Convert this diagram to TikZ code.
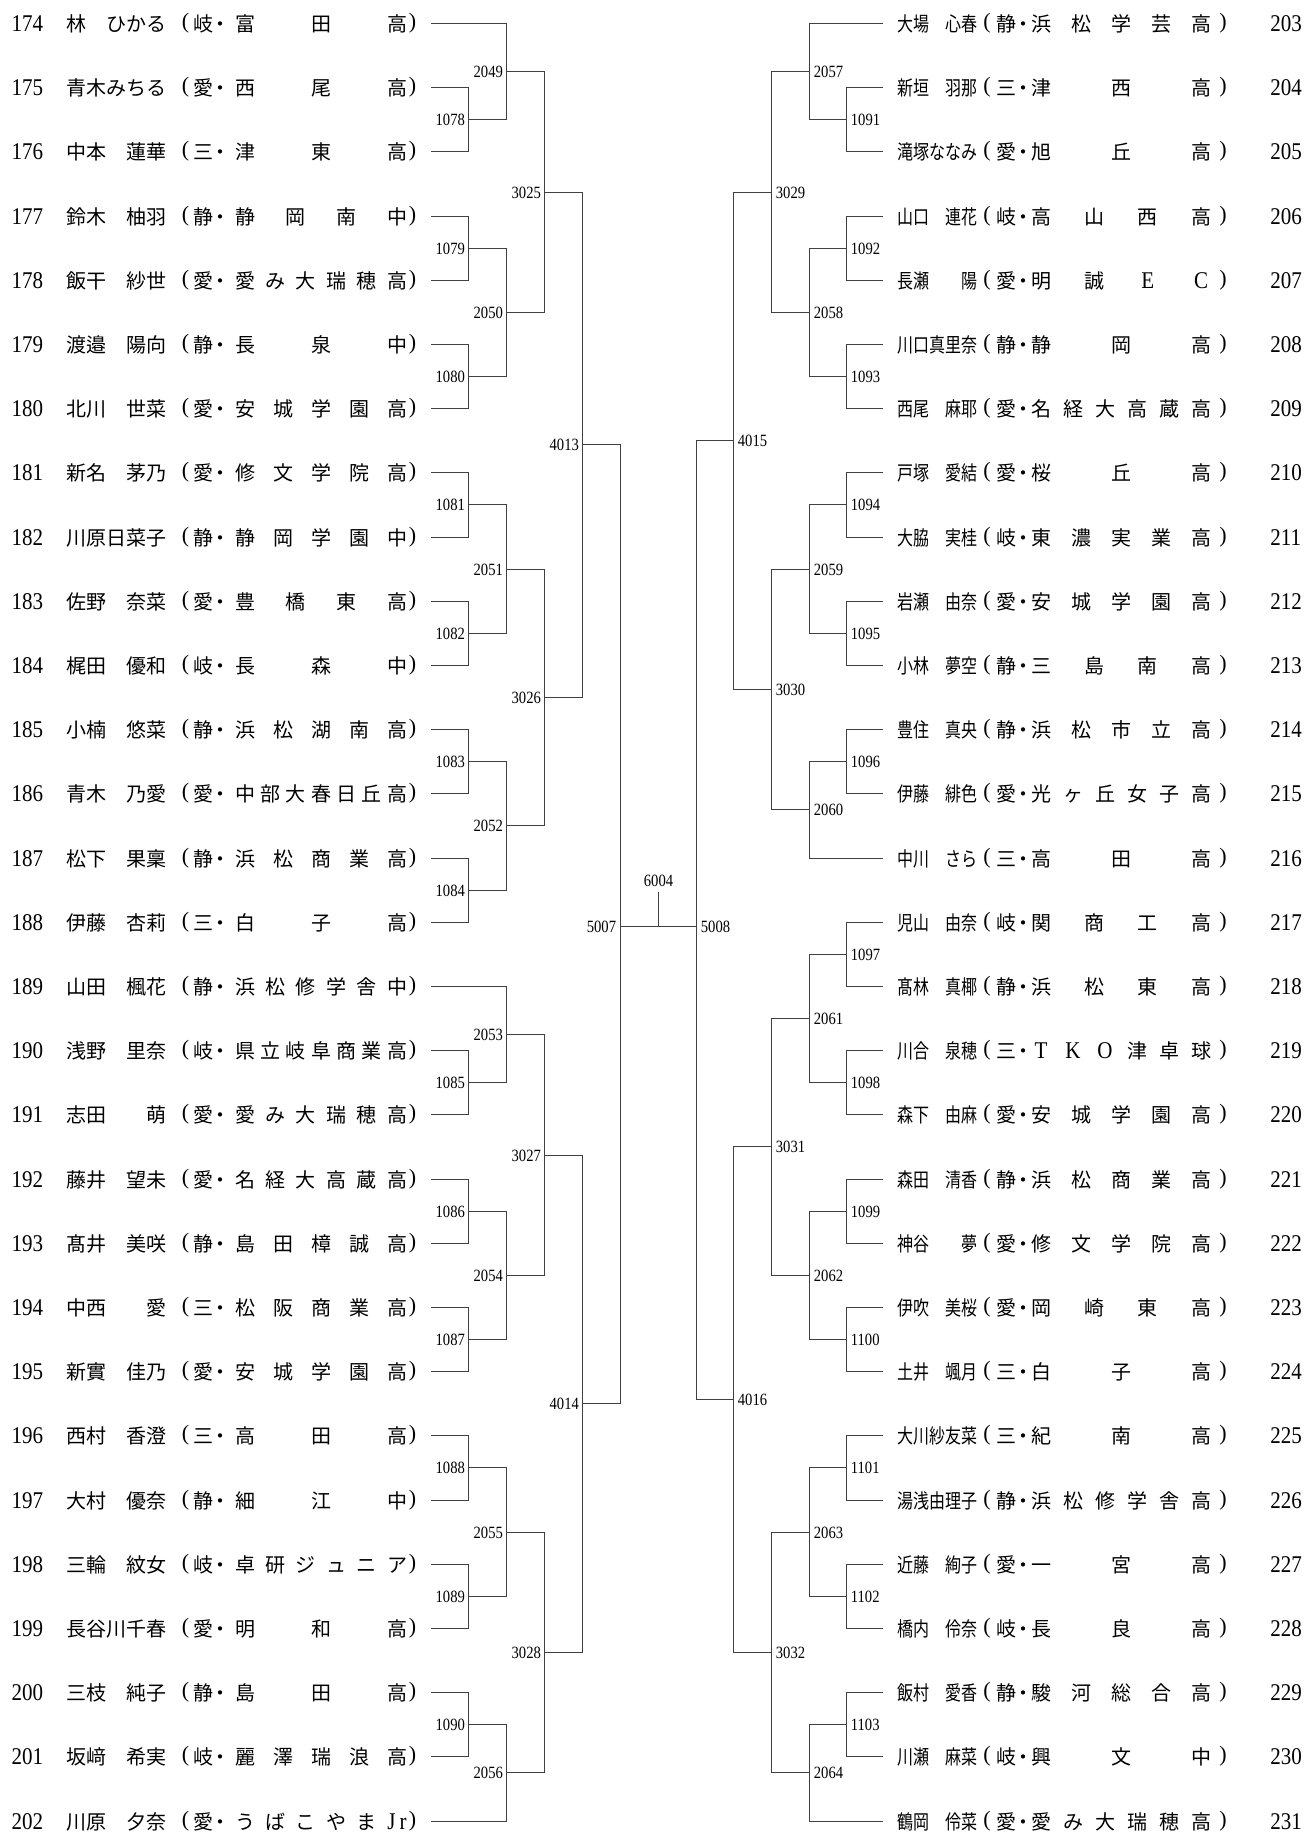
\documentclass[tikz,border=0pt]{standalone}
\usepackage{fontspec}
\newfontfamily\jp{Noto Sans CJK JP}
\newfontfamily\numf[FakeStretch=0.875]{Liberation Serif}
\newfontfamily\lblf[FakeStretch=0.85]{Liberation Serif}
\newfontfamily\parf{Liberation Serif}
\newcommand\latn[1]{{\numf\fontsize{12}{12}\selectfont #1}}
\tikzset{
  jptxt/.style={font=\jp\fontsize{10}{10}\selectfont, inner sep=0pt, text height=8.8pt, text depth=1.2pt},
  numtxt/.style={font=\numf\fontsize{12}{12}\selectfont, inner sep=0pt, text height=8.1pt, text depth=0pt},
  partxt/.style={font=\parf\fontsize{11}{11}\selectfont, inner sep=0pt, text height=7.6pt, text depth=2.4pt},
  lbl/.style={font=\lblf\fontsize{8.6}{8.6}\selectfont, inner sep=0pt, text height=5.8pt, text depth=0pt},
  brk/.style={draw=black!75, line width=0.6pt}
}
\newcommand\LRow[6]{%
  \pgfmathsetmacro\rowy{round(23+64.2*#1)+0.5}%
  \node[numtxt,anchor=east] (Lnum#2) at (43.5,\rowy) {#2};
  \node[jptxt,anchor=west] (Lname#2) at (66,\rowy) {#3};
  \node[partxt] (Llp#2) at (185.5,\rowy) {(};
  \node[jptxt] (Lpref#2) at (203,\rowy) {#4};
  \node[jptxt] (Ldot#2) at (220,\rowy) {・};
  \foreach \sch [count=\k from 0] in {#6} {%
    \pgfmathsetmacro\schx{245+\k*152/(#5-1)}%
    \node[jptxt] (Ls#2-\k) at (\schx,\rowy) {\sch};
  }
  \node[partxt] (Lrp#2) at (412.5,\rowy) {)};
  \coordinate (L#2) at (431,\rowy);
}
\newcommand\RRow[6]{%
  \pgfmathsetmacro\rowy{round(23+64.2*#1)+0.5}%
  \coordinate (R#2) at (883,\rowy);
  \node[jptxt,anchor=west] (Rname#2) at (896.7,\rowy) {\scalebox{0.8}[1]{#3}};
  \node[partxt] (Rlp#2) at (987,\rowy) {(};
  \node[jptxt] (Rpref#2) at (1006,\rowy) {#4};
  \node[jptxt] (Rdot#2) at (1023,\rowy) {・};
  \foreach \sch [count=\k from 0] in {#6} {%
    \pgfmathsetmacro\schx{1041+\k*160/(#5-1)}%
    \node[jptxt] (Rs#2-\k) at (\schx,\rowy) {\sch};
  }
  \node[partxt] (Rrp#2) at (1223,\rowy) {)};
  \node[numtxt,anchor=west] (Rnum#2) at (1270,\rowy) {#2};
}
\newcommand\LM[5]{%
  \pgfmathsetmacro\my{round(23+64.2*#3)+0.5}%
  \coordinate (M#1) at (#2,\my);
  \draw[brk] (#4) -| (M#1) |- (#5);
  \node[lbl,anchor=east] (t#1) at ([xshift=-1.6pt]M#1) {#1};
}
\newcommand\RM[5]{%
  \pgfmathsetmacro\my{round(23+64.2*#3)+0.5}%
  \coordinate (M#1) at (#2,\my);
  \draw[brk] (#4) -| (M#1) |- (#5);
  \node[lbl,anchor=west] (t#1) at ([xshift=2pt]M#1) {#1};
}
\begin{document}
\begin{tikzpicture}[x=0.5pt,y=-0.5pt]
\useasboundingbox (0,0) rectangle (1307,1834);
% left rows
\LRow{0}{174}{林　ひかる}{岐}{3}{富,田,高}
\LRow{1}{175}{青木みちる}{愛}{3}{西,尾,高}
\LRow{2}{176}{中本　蓮華}{三}{3}{津,東,高}
\LRow{3}{177}{鈴木　柚羽}{静}{4}{静,岡,南,中}
\LRow{4}{178}{飯干　紗世}{愛}{6}{愛,み,大,瑞,穂,高}
\LRow{5}{179}{渡邉　陽向}{静}{3}{長,泉,中}
\LRow{6}{180}{北川　世菜}{愛}{5}{安,城,学,園,高}
\LRow{7}{181}{新名　茅乃}{愛}{5}{修,文,学,院,高}
\LRow{8}{182}{川原日菜子}{静}{5}{静,岡,学,園,中}
\LRow{9}{183}{佐野　奈菜}{愛}{4}{豊,橋,東,高}
\LRow{10}{184}{梶田　優和}{岐}{3}{長,森,中}
\LRow{11}{185}{小楠　悠菜}{静}{5}{浜,松,湖,南,高}
\LRow{12}{186}{青木　乃愛}{愛}{7}{中,部,大,春,日,丘,高}
\LRow{13}{187}{松下　果稟}{静}{5}{浜,松,商,業,高}
\LRow{14}{188}{伊藤　杏莉}{三}{3}{白,子,高}
\LRow{15}{189}{山田　楓花}{静}{6}{浜,松,修,学,舎,中}
\LRow{16}{190}{浅野　里奈}{岐}{7}{県,立,岐,阜,商,業,高}
\LRow{17}{191}{志田　　萌}{愛}{6}{愛,み,大,瑞,穂,高}
\LRow{18}{192}{藤井　望未}{愛}{6}{名,経,大,高,蔵,高}
\LRow{19}{193}{髙井　美咲}{静}{5}{島,田,樟,誠,高}
\LRow{20}{194}{中西　　愛}{三}{5}{松,阪,商,業,高}
\LRow{21}{195}{新實　佳乃}{愛}{5}{安,城,学,園,高}
\LRow{22}{196}{西村　香澄}{三}{3}{高,田,高}
\LRow{23}{197}{大村　優奈}{静}{3}{細,江,中}
\LRow{24}{198}{三輪　紋女}{岐}{6}{卓,研,ジ,ュ,ニ,ア}
\LRow{25}{199}{長谷川千春}{愛}{3}{明,和,高}
\LRow{26}{200}{三枝　純子}{静}{3}{島,田,高}
\LRow{27}{201}{坂﨑　希実}{岐}{5}{麗,澤,瑞,浪,高}
\LRow{28}{202}{川原　夕奈}{愛}{6}{う,ば,こ,や,ま,\latn{J\,r}}
% right rows
\RRow{0}{203}{大場　心春}{静}{5}{浜,松,学,芸,高}
\RRow{1}{204}{新垣　羽那}{三}{3}{津,西,高}
\RRow{2}{205}{滝塚ななみ}{愛}{3}{旭,丘,高}
\RRow{3}{206}{山口　連花}{岐}{4}{高,山,西,高}
\RRow{4}{207}{長瀬　　陽}{愛}{4}{明,誠,\latn{E},\latn{C}}
\RRow{5}{208}{川口真里奈}{静}{3}{静,岡,高}
\RRow{6}{209}{西尾　麻耶}{愛}{6}{名,経,大,高,蔵,高}
\RRow{7}{210}{戸塚　愛結}{愛}{3}{桜,丘,高}
\RRow{8}{211}{大脇　実桂}{岐}{5}{東,濃,実,業,高}
\RRow{9}{212}{岩瀬　由奈}{愛}{5}{安,城,学,園,高}
\RRow{10}{213}{小林　夢空}{静}{4}{三,島,南,高}
\RRow{11}{214}{豊住　真央}{静}{5}{浜,松,市,立,高}
\RRow{12}{215}{伊藤　緋色}{愛}{6}{光,ヶ,丘,女,子,高}
\RRow{13}{216}{中川　さら}{三}{3}{高,田,高}
\RRow{14}{217}{児山　由奈}{岐}{4}{関,商,工,高}
\RRow{15}{218}{髙林　真椰}{静}{4}{浜,松,東,高}
\RRow{16}{219}{川合　泉穂}{三}{6}{\latn{T},\latn{K},\latn{O},津,卓,球}
\RRow{17}{220}{森下　由麻}{愛}{5}{安,城,学,園,高}
\RRow{18}{221}{森田　清香}{静}{5}{浜,松,商,業,高}
\RRow{19}{222}{神谷　　夢}{愛}{5}{修,文,学,院,高}
\RRow{20}{223}{伊吹　美桜}{愛}{4}{岡,崎,東,高}
\RRow{21}{224}{土井　颯月}{三}{3}{白,子,高}
\RRow{22}{225}{大川紗友菜}{三}{3}{紀,南,高}
\RRow{23}{226}{湯浅由理子}{静}{6}{浜,松,修,学,舎,高}
\RRow{24}{227}{近藤　絢子}{愛}{3}{一,宮,高}
\RRow{25}{228}{橋内　伶奈}{岐}{3}{長,良,高}
\RRow{26}{229}{飯村　愛香}{静}{5}{駿,河,総,合,高}
\RRow{27}{230}{川瀬　麻菜}{岐}{3}{興,文,中}
\RRow{28}{231}{鶴岡　伶菜}{愛}{6}{愛,み,大,瑞,穂,高}
% left bracket
\LM{1078}{468.5}{1.5}{L175}{L176}
\LM{2049}{506.5}{0.75}{L174}{M1078}
\LM{1079}{468.5}{3.5}{L177}{L178}
\LM{1080}{468.5}{5.5}{L179}{L180}
\LM{2050}{506.5}{4.5}{M1079}{M1080}
\LM{3025}{544.5}{2.625}{M2049}{M2050}
\LM{1081}{468.5}{7.5}{L181}{L182}
\LM{1082}{468.5}{9.5}{L183}{L184}
\LM{2051}{506.5}{8.5}{M1081}{M1082}
\LM{1083}{468.5}{11.5}{L185}{L186}
\LM{1084}{468.5}{13.5}{L187}{L188}
\LM{2052}{506.5}{12.5}{M1083}{M1084}
\LM{3026}{544.5}{10.5}{M2051}{M2052}
\LM{4013}{582.5}{6.5625}{M3025}{M3026}
\LM{1085}{468.5}{16.5}{L190}{L191}
\LM{2053}{506.5}{15.75}{L189}{M1085}
\LM{1086}{468.5}{18.5}{L192}{L193}
\LM{1087}{468.5}{20.5}{L194}{L195}
\LM{2054}{506.5}{19.5}{M1086}{M1087}
\LM{3027}{544.5}{17.625}{M2053}{M2054}
\LM{1088}{468.5}{22.5}{L196}{L197}
\LM{1089}{468.5}{24.5}{L198}{L199}
\LM{2055}{506.5}{23.5}{M1088}{M1089}
\LM{1090}{468.5}{26.5}{L200}{L201}
\LM{2056}{506.5}{27.25}{M1090}{L202}
\LM{3028}{544.5}{25.375}{M2055}{M2056}
\LM{4014}{582.5}{21.5}{M3027}{M3028}
% right bracket
\RM{1091}{846.5}{1.5}{R204}{R205}
\RM{2057}{809.5}{0.75}{R203}{M1091}
\RM{1092}{846.5}{3.5}{R206}{R207}
\RM{1093}{846.5}{5.5}{R208}{R209}
\RM{2058}{809.5}{4.5}{M1092}{M1093}
\RM{3029}{771.5}{2.625}{M2057}{M2058}
\RM{1094}{846.5}{7.5}{R210}{R211}
\RM{1095}{846.5}{9.5}{R212}{R213}
\RM{2059}{809.5}{8.5}{M1094}{M1095}
\RM{1096}{846.5}{11.5}{R214}{R215}
\RM{2060}{809.5}{12.25}{M1096}{R216}
\RM{3030}{771.5}{10.375}{M2059}{M2060}
\RM{4015}{733.5}{6.5}{M3029}{M3030}
\RM{1097}{846.5}{14.5}{R217}{R218}
\RM{1098}{846.5}{16.5}{R219}{R220}
\RM{2061}{809.5}{15.5}{M1097}{M1098}
\RM{1099}{846.5}{18.5}{R221}{R222}
\RM{1100}{846.5}{20.5}{R223}{R224}
\RM{2062}{809.5}{19.5}{M1099}{M1100}
\RM{3031}{771.5}{17.5}{M2061}{M2062}
\RM{1101}{846.5}{22.5}{R225}{R226}
\RM{1102}{846.5}{24.5}{R227}{R228}
\RM{2063}{809.5}{23.5}{M1101}{M1102}
\RM{1103}{846.5}{26.5}{R229}{R230}
\RM{2064}{809.5}{27.25}{M1103}{R231}
\RM{3032}{771.5}{25.375}{M2063}{M2064}
\RM{4016}{733.5}{21.4375}{M3031}{M3032}
% semifinal / final
\coordinate (M5007) at (620.5,926.5);
\coordinate (M5008) at (696.5,926.5);
\draw[brk] (M4013) -| (M5007) |- (M4014);
\draw[brk] (M4015) -| (M5008) |- (M4016);
\draw[brk] (M5007) -- (M5008);
\node[lbl,anchor=east] (t5007) at ([xshift=-2pt]M5007) {5007};
\node[lbl,anchor=west] (t5008) at ([xshift=2pt]M5008) {5008};
\coordinate (C6004) at (658.5,892);
\draw[brk] (M5007 -| C6004) -- (C6004);
\node[lbl,anchor=south] (t6004) at ([yshift=2.5pt]C6004) {6004};
\end{tikzpicture}
\end{document}
